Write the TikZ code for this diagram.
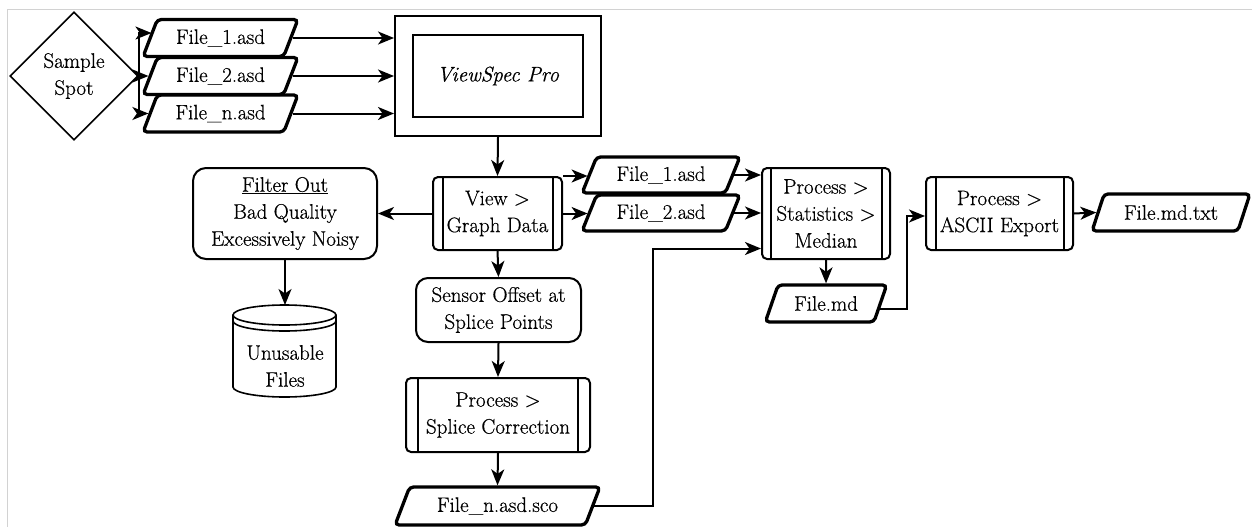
\documentclass[tikz,border=0pt]{standalone}
\usepackage{fontspec}
\setmainfont{Latin Modern Roman}[FakeBold=0.6]
\usetikzlibrary{shapes.geometric,arrows.meta}
\begin{document}
\begin{tikzpicture}[x=1pt,y=-1pt,
  every node/.style={font=\rmfamily\fontsize{21}{27}\selectfont, align=center, inner sep=0pt},
  arr/.style={-{Stealth[length=16pt,width=13pt,inset=4.5pt]}, line width=2pt},
  conn/.style={line width=2pt},
  para/.style={trapezium, trapezium left angle=60, trapezium right angle=120,
    trapezium stretches=true, draw, line width=3.3pt, rounded corners=4pt},
  rbox/.style={draw, line width=2pt, rounded corners=13pt},
  proc/.style={draw, line width=2pt, rounded corners=5pt, path picture={
    \draw[line width=2pt] ([xshift=#1]path picture bounding box.north west) -- ([xshift=#1]path picture bounding box.south west);
    \draw[line width=2pt] ([xshift=-#1]path picture bounding box.north east) -- ([xshift=-#1]path picture bounding box.south east);}},
  proc/.default=9.5pt,
  frame/.style={draw=gray!35, line width=1.2pt}
]
\useasboundingbox (0,0) rectangle (1252,527);
\draw[frame] (7.5,527) -- (7.5,9.5) -- (1252,9.5);

% nodes
\node[diamond, draw, line width=1.6pt, minimum width=128pt, minimum height=128pt] (spot) at (74,76) {Sample\\Spot};
\node[para, minimum width=155pt, minimum height=37pt] (f1) at (220.5,38) {File\_1.asd};
\node[para, minimum width=155pt, minimum height=37pt] (f2) at (220.5,76) {File\_2.asd};
\node[para, minimum width=155pt, minimum height=37pt] (fn) at (220.5,113.5) {File\_n.asd};

\node[draw, line width=2pt, minimum width=206pt, minimum height=120pt] (vs) at (498,76) {};
\node[draw, line width=2pt, minimum width=170pt, minimum height=82pt,
  font=\rmfamily\fontsize{21}{27}\selectfont\itshape] (vsin) at (498,76) {ViewSpec Pro};

\node[proc, minimum width=129pt, minimum height=73pt] (view) at (497.5,213.5) {View >\\Graph Data};
\node[rbox, minimum width=184pt, minimum height=91pt] (filt) at (285,213.5) {\underline{Filter Out}\\Bad Quality\\Excessively Noisy};

\node (cyl) at (285,366) {Unusable\\Files};
\coordinate (cyltop) at (285,305);
\draw[line width=1.6pt] (233,315) -- (233,387) arc[start angle=180,end angle=360,x radius=51.5pt,y radius=10pt]
  -- (336,315) arc[start angle=0,end angle=180,x radius=51.5pt,y radius=10pt] -- cycle;
\draw[line width=1.6pt] (233,315) arc[start angle=180,end angle=360,x radius=51.5pt,y radius=10pt];
\draw[line width=1.6pt] (233,321) arc[start angle=180,end angle=360,x radius=51.5pt,y radius=10pt];

\node[rbox, rounded corners=12pt, minimum width=165pt, minimum height=64pt] (sensor) at (498.5,310) {Sensor Offset at\\Splice Points};
\node[proc=12pt, minimum width=184pt, minimum height=74pt] (splice) at (498,415) {Process >\\Splice Correction};
\node[para, minimum width=205pt, minimum height=38pt] (sco) at (497.5,506) {File\_n.asd.sco};

\node[para, minimum width=158pt, minimum height=36pt] (mf1) at (661,175) {File\_1.asd};
\node[para, minimum width=158pt, minimum height=36pt] (mf2) at (661,213) {File\_2.asd};
\node[proc=8.5pt, minimum width=128pt, minimum height=91pt] (med) at (826,213.5) {Process >\\Statistics >\\Median};
\node[para, minimum width=122pt, minimum height=37pt] (md) at (826,303.5) {File.md};
\node[proc, minimum width=147pt, minimum height=73pt] (ascii) at (999.5,213.5) {Process >\\ASCII Export};
\node[para, minimum width=158pt, minimum height=37pt] (mdt) at (1171,212.5) {File.md.txt};

% connectors
\coordinate (sj) at (139,76);
\draw[conn] (spot.east) -- (sj);
\draw[arr] (sj) |- ([xshift=3pt,yshift=5pt]f1.west);
\draw[arr] (sj) -- (f2.west);
\draw[arr] (sj) |- (fn.west);
\foreach \f in {f1,f2,fn} \draw[arr] (\f.east) -- (\f.east -| vs.west);

\draw[arr] (vs.south) -- (view.north);
\draw[arr] (view.west) -- (filt.east);
\draw[arr] (filt.south) -- (cyltop);
\draw[arr] (view.south) -- (sensor.north);
\draw[arr] (sensor.south) -- (splice.north);
\draw[arr] (splice.south) -- (sco.north);
\coordinate (bend1) at (653,400);
\draw[arr] (sco.east) -| (bend1) |- ([yshift=-35pt]med.west);

\draw[arr] (view.north east) -- (view.north east -| mf1.west);
\draw[arr] (view.east) -- (view.east -| mf2.west);
\draw[arr] (mf1.east) -- (mf1.east -| med.west);
\draw[arr] (mf2.east) -- (mf2.east -| med.west);
\draw[arr] (med.south) -- (md.north);
\draw[arr] ([xshift=-3pt,yshift=-5.5pt]md.east) -| ([xshift=-18pt,yshift=-2.5pt]ascii.west) -- ([yshift=-2.5pt]ascii.west);
\draw[arr] (ascii.east) -- (mdt.west);
\end{tikzpicture}
\end{document}
